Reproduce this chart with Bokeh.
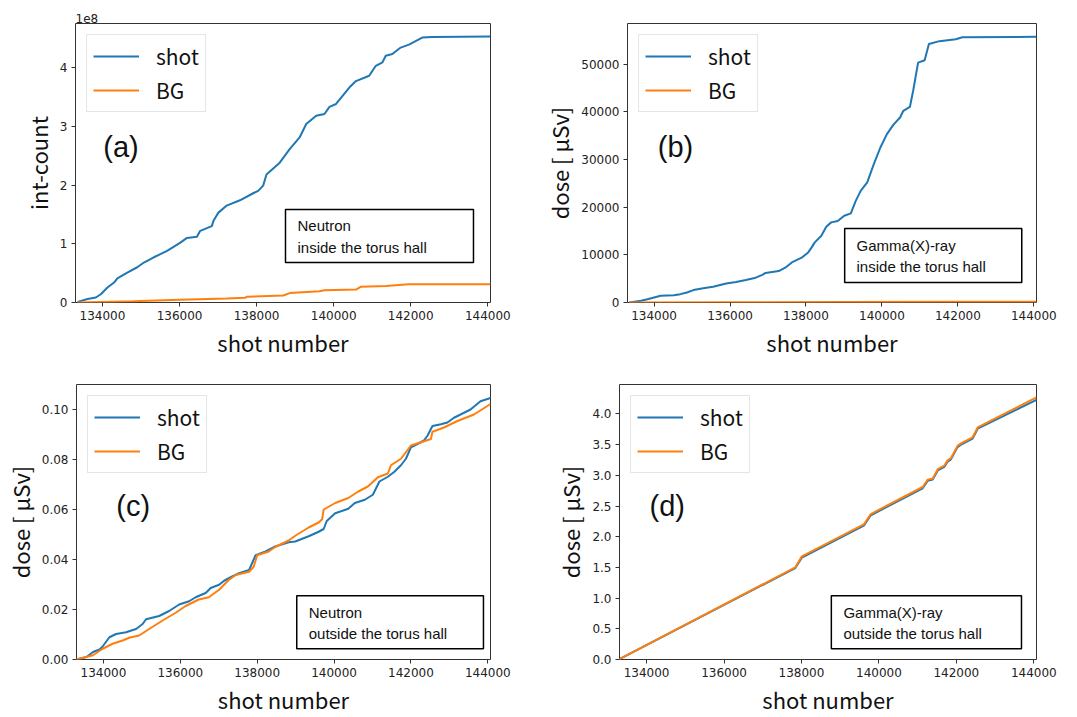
from bokeh.plotting import figure
from bokeh.layouts import column, row
from bokeh.models import (Range1d, FixedTicker, BasicTickFormatter, NumeralTickFormatter,
                          CustomJSTickFormatter, BoxAnnotation, Label)
from bokeh.embed import file_html
from bokeh.resources import INLINE

BLUE = "#1f77b4"
ORANGE = "#ff7f0e"

# ---------------- data ----------------
x_ticks = [134000, 136000, 138000, 140000, 142000, 144000]

# (a) neutron inside torus hall, integrated counts
a_shot_x = [133355, 133613, 133828, 133957, 134129, 134301, 134387, 134645, 134903, 135075,
            135333, 135677, 136021, 136193, 136451, 136537, 136838, 136881, 137009, 137224,
            137568, 137912, 138041, 138170, 138256, 138600, 138858, 139116, 139288, 139546,
            139761, 139890, 140062, 140406, 140578, 140922, 141094, 141266, 141352, 141524,
            141739, 141954, 142298, 142556, 144070]
a_shot_y = [0.01e8, 0.06e8, 0.085e8, 0.14e8, 0.255e8, 0.34e8, 0.41e8, 0.51e8, 0.60e8, 0.68e8,
            0.77e8, 0.88e8, 1.02e8, 1.10e8, 1.12e8, 1.22e8, 1.30e8, 1.39e8, 1.53e8, 1.65e8,
            1.74e8, 1.86e8, 1.90e8, 1.99e8, 2.18e8, 2.38e8, 2.61e8, 2.81e8, 3.04e8, 3.18e8,
            3.21e8, 3.33e8, 3.38e8, 3.66e8, 3.77e8, 3.86e8, 4.03e8, 4.09e8, 4.20e8, 4.23e8,
            4.34e8, 4.39e8, 4.51e8, 4.52e8, 4.53e8]
a_bg_x = [133355, 134000, 134800, 136000, 137225, 137700, 137740, 138690, 138860, 139630,
          139760, 140580, 140710, 141350, 141700, 141950, 144070]
a_bg_y = [0.0, 0.01e8, 0.02e8, 0.045e8, 0.068e8, 0.08e8, 0.096e8, 0.12e8, 0.16e8, 0.19e8,
          0.21e8, 0.22e8, 0.27e8, 0.28e8, 0.30e8, 0.31e8, 0.31e8]

# (b) gamma(X)-ray inside torus hall, dose [uSv]
b_shot_x = [133350, 133654, 133827, 134000, 134173, 134518, 134690, 134864, 135036, 135295,
            135554, 135900, 136159, 136418, 136677, 136850, 136936, 137282, 137454, 137627,
            137886, 138059, 138145, 138232, 138404, 138534, 138663, 138836, 139008, 139181,
            139310, 139440, 139613, 139786, 139959, 140131, 140304, 140477, 140563, 140736,
            140822, 140952, 141124, 141237, 141513, 141945, 142117, 144070]
b_shot_y = [0, 350, 700, 1050, 1400, 1500, 1750, 2100, 2600, 3000,
            3300, 4000, 4300, 4700, 5200, 5800, 6200, 6600, 7300, 8400,
            9400, 10500, 11500, 12600, 14000, 15900, 16800, 17100, 18200, 18700,
            21300, 23400, 25200, 29000, 32500, 35300, 37300, 38800, 40200, 41000,
            44400, 50300, 50800, 54200, 54800, 55200, 55600, 55700]
b_bg_x = [133350, 136000, 139000, 142000, 144070]
b_bg_y = [0, 50, 100, 150, 180]

# (c) neutron outside torus hall, dose [uSv]
c_shot_x = [133290, 133560, 133730, 133900, 133980, 134155, 134330, 134590, 134850, 135020,
            135110, 135450, 135710, 135970, 136230, 136400, 136660, 136790, 137010, 137140,
            137350, 137530, 137790, 137960, 138220, 138470, 138820, 138990, 139340, 139600,
            139730, 139810, 140030, 140370, 140540, 140800, 141010, 141180, 141400, 141570,
            141740, 141870, 142000, 142170, 142340, 142430, 142560, 142780, 142950, 143120,
            143290, 143550, 143810, 144070]
c_shot_y = [0.0, 0.001, 0.003, 0.004, 0.0052, 0.0089, 0.0102, 0.0109, 0.0122, 0.0142,
            0.0161, 0.0174, 0.0194, 0.022, 0.0233, 0.0249, 0.0266, 0.0286, 0.0299, 0.0315,
            0.0332, 0.0345, 0.0358, 0.0417, 0.0432, 0.0452, 0.0469, 0.0472, 0.0493, 0.0511,
            0.0522, 0.0554, 0.0585, 0.0603, 0.0626, 0.0639, 0.0659, 0.0712, 0.0731, 0.0751,
            0.0777, 0.0803, 0.0849, 0.0862, 0.0876, 0.0895, 0.0934, 0.0941, 0.0948, 0.0967,
            0.098, 0.1, 0.1033, 0.1046]
c_bg_x = [133290, 133730, 133980, 134240, 134500, 134670, 134930, 135190, 135530, 135880,
          136140, 136480, 136740, 137010, 137260, 137440, 137790, 137910, 138000, 138300,
          138470, 138820, 138990, 139340, 139600, 139690, 139730, 140030, 140370, 140630,
          140880, 141140, 141400, 141480, 141740, 142000, 142260, 142520, 142560, 142860,
          143210, 143640, 144070]
c_bg_y = [0.0, 0.0017, 0.0043, 0.0063, 0.0076, 0.0087, 0.0096, 0.0122, 0.0155, 0.0187,
          0.0214, 0.024, 0.0249, 0.0279, 0.0318, 0.0338, 0.0351, 0.0371, 0.0417, 0.0432,
          0.045, 0.0476, 0.0495, 0.0528, 0.0548, 0.0561, 0.06, 0.0626, 0.0646, 0.0672,
          0.0692, 0.0729, 0.0744, 0.0777, 0.0803, 0.0856, 0.0869, 0.0882, 0.0911, 0.0928,
          0.0954, 0.098, 0.1022]

# (d) gamma(X)-ray outside torus hall, dose [uSv]
d_x = [133280, 137840, 138010, 139610, 139790, 141130, 141260, 141390, 141520, 141690,
       141770, 141860, 142030, 142120, 142420, 142550, 144070]
d_shot_y = [0.0, 1.49, 1.66, 2.18, 2.35, 2.79, 2.91, 2.93, 3.08, 3.14,
            3.22, 3.26, 3.46, 3.50, 3.60, 3.76, 4.23]
d_bg_y = [0.0, 1.5, 1.68, 2.2, 2.37, 2.81, 2.93, 2.95, 3.1, 3.16,
          3.24, 3.28, 3.48, 3.52, 3.62, 3.78, 4.27]

X0, X1 = 133300, 144070

LABEL_FONT = "Noto Sans CJK JP"
TICK_FONT = "DejaVu Sans"
NOTE_FONT = "Liberation Sans"


def make_panel(w, h, bl, br, bt, bb, ymax, yticks, yfmt, ylabel,
               sx, sy, gx, gy, tag, tag_pos, note, box, note_pos, title=None):
    p = figure(width=w, height=h, output_backend="svg", toolbar_location=None,
               x_range=Range1d(X0, X1), y_range=Range1d(0, ymax),
               min_border_left=bl, min_border_right=br,
               min_border_top=bt, min_border_bottom=bb)
    p.background_fill_color = "white"
    p.border_fill_color = "white"
    p.outline_line_color = "#333333"
    p.outline_line_width = 1
    p.outline_line_alpha = 1
    p.xgrid.visible = False
    p.ygrid.visible = False

    p.line(sx, sy, line_color=BLUE, line_width=2, legend_label="shot")
    p.line(gx, gy, line_color=ORANGE, line_width=2, legend_label="BG")

    p.xaxis.ticker = FixedTicker(ticks=x_ticks)
    p.xaxis.formatter = BasicTickFormatter(use_scientific=False)
    p.yaxis.ticker = FixedTicker(ticks=yticks)
    p.yaxis.formatter = yfmt
    for ax in (p.xaxis, p.yaxis):
        ax.axis_line_color = None
        ax.major_tick_in = 0
        ax.major_tick_out = 4
        ax.major_tick_line_color = "#333333"
        ax.minor_tick_line_color = None
        ax.major_label_text_font = TICK_FONT
        ax.major_label_text_font_size = "12px"
        ax.major_label_text_color = "#222222"
        ax.major_label_standoff = 4
        ax.axis_label_text_font = LABEL_FONT
        ax.axis_label_text_font_size = "22px"
        ax.axis_label_text_font_style = "normal"
        ax.axis_label_text_color = "#111111"
        ax.axis_label_standoff = 3
    p.xaxis.axis_label = "shot number"
    p.yaxis.axis_label = ylabel

    lg = p.legend[0]
    lg.location = "top_left"
    lg.margin = 11
    lg.padding = 6
    lg.spacing = 4
    lg.glyph_width = 46
    lg.glyph_height = 20
    lg.label_height = 20
    lg.label_standoff = 17
    lg.label_text_font = LABEL_FONT
    lg.label_text_font_size = "21px"
    lg.label_text_color = "#111111"
    lg.border_line_color = "#cccccc"
    lg.border_line_width = 1
    lg.background_fill_alpha = 0.8

    ys = ymax
    xs = X1 - X0
    p.add_layout(Label(x=X0 + tag_pos[0] * xs, y=tag_pos[1] * ys, text=tag,
                       text_font=NOTE_FONT, text_font_size="29px",
                       text_baseline="middle", text_color="#111111"))
    p.add_layout(BoxAnnotation(left=X0 + box[0] * xs, right=X0 + box[1] * xs,
                               bottom=box[2] * ys, top=box[3] * ys,
                               fill_color="white", fill_alpha=1.0,
                               line_color="black", line_width=1.5, line_alpha=1.0))
    for i, line_txt in enumerate(note):
        p.add_layout(Label(x=X0 + note_pos[0] * xs, y=note_pos[1 + i] * ys, text=line_txt,
                           text_font=NOTE_FONT, text_font_size="15px",
                           text_baseline="middle", text_color="#111111"))
    if title:
        p.title.text = title
        p.title.text_font = TICK_FONT
        p.title.text_font_size = "12px"
        p.title.text_font_style = "normal"
        p.title.text_color = "#222222"
        p.title.align = "left"
        p.title.standoff = 2
    return p


pa = make_panel(540, 360, 75, 50, 23, 58, 4.75e8, [0, 1e8, 2e8, 3e8, 4e8],
                CustomJSTickFormatter(code="return (tick/1e8).toFixed(0);"), "int-count",
                a_shot_x, a_shot_y, a_bg_x, a_bg_y, "(a)", (0.067, 0.556),
                ["Neutron", "inside the torus hall"], (0.506, 0.959, 0.143, 0.333),
                (0.535, 0.276, 0.197), title="1e8")
pb = make_panel(537, 360, 78, 41, 23, 58, 58500, [0, 10000, 20000, 30000, 40000, 50000],
                BasicTickFormatter(use_scientific=False), "dose [ μSv]",
                b_shot_x, b_shot_y, b_bg_x, b_bg_y, "(b)", (0.074, 0.556),
                ["Gamma(X)-ray", "inside the torus hall"], (0.531, 0.964, 0.072, 0.265),
                (0.560, 0.204, 0.129))
pc = make_panel(540, 357, 73, 50, 23, 54, 0.11, [0, 0.02, 0.04, 0.06, 0.08, 0.10],
                NumeralTickFormatter(format="0.00"), "dose [ μSv]",
                c_shot_x, c_shot_y, c_bg_x, c_bg_y, "(c)", (0.096, 0.557),
                ["Neutron", "outside the torus hall"], (0.532, 0.983, 0.039, 0.232),
                (0.561, 0.171, 0.096))
pd_ = make_panel(537, 357, 79, 41, 24, 54, 4.48, [0, 0.5, 1.0, 1.5, 2.0, 2.5, 3.0, 3.5, 4.0],
                 NumeralTickFormatter(format="0.0"), "dose [ μSv]",
                 d_x, d_shot_y, d_x, d_bg_y, "(d)", (0.072, 0.557),
                 ["Gamma(X)-ray", "outside the torus hall"], (0.508, 0.964, 0.039, 0.232),
                 (0.537, 0.171, 0.096))

layout = column(row(pa, pb), row(pc, pd_))
open("out.html", "w").write(file_html(layout, INLINE))
